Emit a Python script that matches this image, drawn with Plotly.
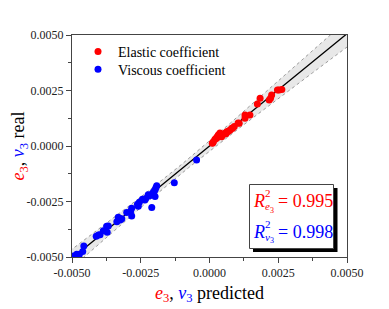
import numpy as np
import plotly.graph_objects as go

# ---- data ----
elastic_pred = [0.00010, 0.00012, 0.00014, 0.00020, 0.00026, 0.00027, 0.00032, 0.00035, 0.00038,
                0.00044, 0.00050, 0.00056, 0.00060, 0.00063, 0.00065, 0.00070, 0.00075, 0.00081,
                0.00084, 0.00090, 0.00104, 0.00108, 0.00129, 0.00129, 0.00147, 0.00174, 0.00184,
                0.00217, 0.00222, 0.00226, 0.00247, 0.00253, 0.00263]
elastic_real = [0.00012, 0.00015, 0.00019, 0.00030, 0.00035, 0.00040, 0.00050, 0.00050, 0.00059,
                0.00042, 0.00052, 0.00057, 0.00055, 0.00064, 0.00064, 0.00068, 0.00072, 0.00080,
                0.00080, 0.00088, 0.00104, 0.00102, 0.00125, 0.00140, 0.00140, 0.00189, 0.00215,
                0.00207, 0.00215, 0.00230, 0.00252, 0.00252, 0.00255]

viscous_pred = [-0.00047, -0.00128, -0.00192, -0.00195, -0.00198, -0.00204, -0.00204, -0.00198,
                -0.00213, -0.00223, -0.00210, -0.00235, -0.00244, -0.00255, -0.00259, -0.00283,
                -0.00287, -0.00283, -0.00301, -0.00319, -0.00328, -0.00332, -0.00337, -0.00325,
                -0.00368, -0.00374, -0.00372, -0.00386, -0.00398, -0.00404, -0.00412, -0.00457,
                -0.00461, -0.00473, -0.00483, -0.00493, -0.00232, -0.00220, -0.00262]
viscous_real = [-0.00063, -0.00165, -0.00179, -0.00188, -0.00198, -0.00207, -0.00213, -0.00228,
                -0.00220, -0.00220, -0.00277, -0.00243, -0.00240, -0.00253, -0.00271, -0.00280,
                -0.00296, -0.00315, -0.00300, -0.00328, -0.00326, -0.00321, -0.00341, -0.00333,
                -0.00360, -0.00362, -0.00388, -0.00382, -0.00400, -0.00401, -0.00407, -0.00450,
                -0.00475, -0.00488, -0.00488, -0.00495, -0.00237, -0.00225, -0.00262]

tick_vals = [-0.005, -0.0025, 0.0, 0.0025, 0.005]
tick_text = ["-0.0050", "-0.0025", "0.0000", "0.0025", "0.0050"]
r2_elastic = "0.995"
r2_viscous = "0.998"

# ---- regression fit and confidence band ----
xa = np.array(elastic_pred + viscous_pred)
ya = np.array(elastic_real + viscous_real)
slope, icpt = np.polyfit(xa, ya, 1)
n = len(xa)
xm = xa.mean()
sxx = ((xa - xm) ** 2).sum()
xs = np.linspace(-0.0056, 0.0056, 200)
fit = slope * xs + icpt
shape_fn = np.sqrt(1.0 / n + (xs - xm) ** 2 / sxx)
k = 0.0006 / np.sqrt(1.0 / n + (0.005 - xm) ** 2 / sxx)
hw = k * shape_fn
upper = fit + hw
lower = fit - hw

FONT = "Liberation Serif"
RED = "#ff0000"
BLUE = "#0000ff"

fig = go.Figure()
fig.add_trace(go.Scatter(x=xs, y=lower, mode="lines",
                         line=dict(color="#9a9a9a", width=1, dash="dot"),
                         showlegend=False, hoverinfo="skip"))
fig.add_trace(go.Scatter(x=xs, y=upper, mode="lines", fill="tonexty",
                         fillcolor="#e8e8e8",
                         line=dict(color="#9a9a9a", width=1, dash="dot"),
                         showlegend=False, hoverinfo="skip"))
fig.add_trace(go.Scatter(x=xs, y=fit, mode="lines", line=dict(color="black", width=1.3),
                         showlegend=False, hoverinfo="skip"))
fig.add_trace(go.Scatter(x=elastic_pred, y=elastic_real, mode="markers",
                         marker=dict(color=RED, size=7), name="Elastic coefficient",
                         legend="legend"))
fig.add_trace(go.Scatter(x=viscous_pred, y=viscous_real, mode="markers",
                         marker=dict(color=BLUE, size=7), name="Viscous coefficient",
                         legend="legend2"))

# page body has an 8px margin; the figure is laid out in window pixels shifted by it
OFF = 8
W, H = 389 - OFF, 309 - OFF
PX0, PX1, PY0, PY1 = 72, 347, 35, 257  # plot area in window pixels
L, T = PX0 - OFF, PY0 - OFF
R = W - (PX1 - OFF)
B = H - (PY1 - OFF)
PW, PH = PX1 - PX0, PY1 - PY0


def px(xp):
    return (xp - PX0) / PW


def py(yp):
    return (PY1 - yp) / PH


axis_common = dict(
    range=[-0.005, 0.005], tickvals=tick_vals, ticktext=tick_text,
    showgrid=False, zeroline=False, showline=True, linecolor="#444444", linewidth=1,
    mirror=True, ticks="outside", ticklen=5, tickcolor="#444444",
    minor=dict(ticks="outside", ticklen=3, dtick=0.00125, tickcolor="#444444"),
    tickfont=dict(family=FONT, size=12, color="#222222"),
    automargin=False,
)

legend_common = dict(xanchor="left", yanchor="top", bgcolor="rgba(0,0,0,0)",
                     font=dict(family=FONT, size=14), itemsizing="trace")

fig.update_layout(
    width=W, height=H,
    margin=dict(l=L, r=R, t=T, b=B, autoexpand=False),
    paper_bgcolor="white", plot_bgcolor="white",
    font=dict(family=FONT, color="black"),
    xaxis=dict(**axis_common,
               title=dict(text='<span style="color:#ff0000"><i>e</i><sub>3</sub></span>, '
                               '<span style="color:#0000ff"><i>v</i><sub>3</sub></span> predicted',
                          font=dict(family=FONT, size=18), standoff=6)),
    yaxis=dict(**axis_common,
               title=dict(text='<span style="color:#ff0000"><i>e</i><sub>3</sub></span>, '
                               '<span style="color:#0000ff"><i>v</i><sub>3</sub></span> real',
                          font=dict(family=FONT, size=18), standoff=15)),
    legend=dict(x=px(78), y=py(36), **legend_common),
    legend2=dict(x=px(78), y=py(53.7), **legend_common),
    showlegend=True,
)

# R^2 box with shadow
fig.add_shape(type="rect", xref="paper", yref="paper",
              x0=px(253), x1=px(337.5), y0=py(252), y1=py(188),
              fillcolor="black", line=dict(width=0))
fig.add_shape(type="rect", xref="paper", yref="paper",
              x0=px(249.5), x1=px(333.5), y0=py(248.5), y1=py(184.5),
              fillcolor="white", line=dict(color="#444444", width=1))


def txt(x, y, s, size, color, italic=False):
    if italic:
        s = "<i>" + s + "</i>"
    fig.add_annotation(xref="paper", yref="paper", x=px(x), y=py(y), text=s,
                       showarrow=False, xanchor="left", yanchor="middle",
                       font=dict(family=FONT, size=size, color=color), borderpad=0)


for (yc, sub, val, col) in [(201, "e", r2_elastic, RED), (231.5, "v", r2_viscous, BLUE)]:
    txt(251.5, yc, "R", 18, col, italic=True)
    txt(264, yc - 8, "2", 11, col)
    txt(263.5, yc + 5, sub, 11, col, italic=True)
    txt(269, yc + 9, "3", 8, col)
    txt(276.5, yc, "= " + val, 18, col)

fig.write_html("out.html")
